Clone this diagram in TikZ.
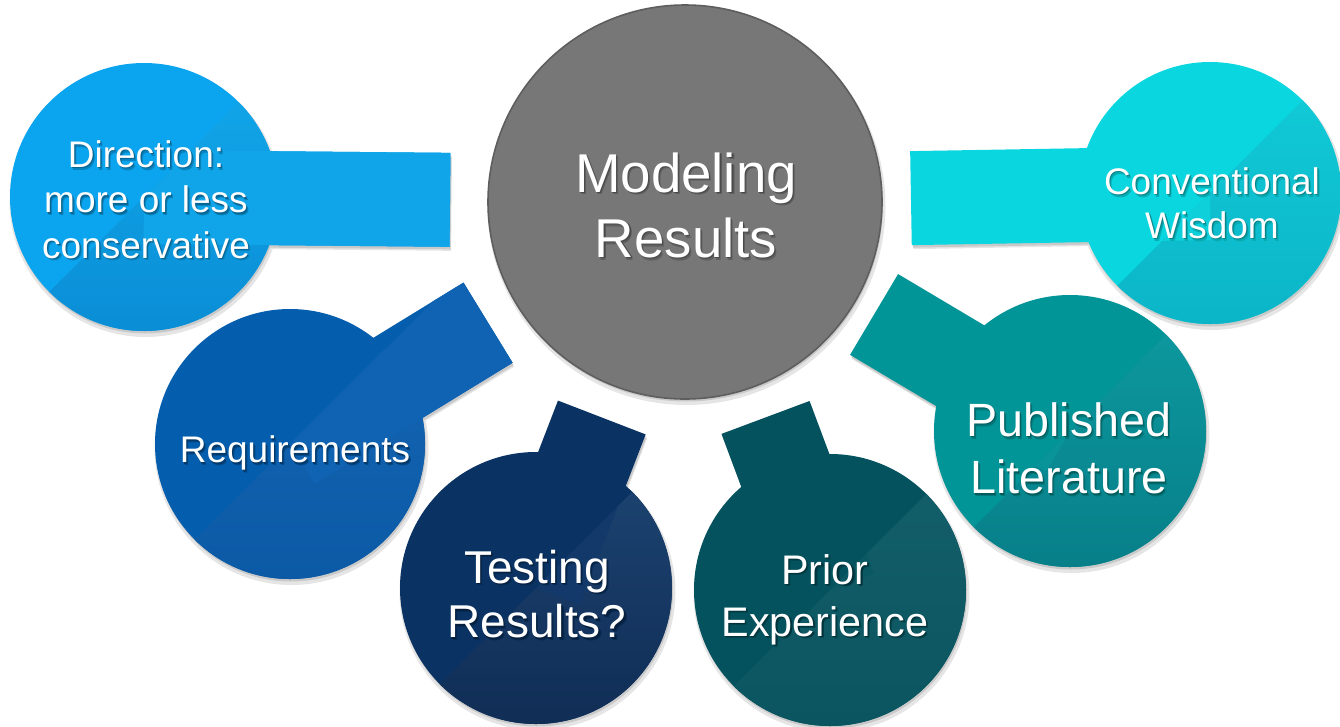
\documentclass[tikz,border=0pt]{standalone}
\usepackage{fontspec}
\setmainfont{Liberation Sans}
\usetikzlibrary{calc}

\definecolor{hubgray}{HTML}{777777}
\definecolor{hubedge}{HTML}{5E5E5E}
% base / lower-right top / lower-right bottom / tab tint
\definecolor{dirA}{HTML}{0BA4EE}\definecolor{dirB}{HTML}{12A8EA}\definecolor{dirC}{HTML}{0A8ED6}\definecolor{dirD}{HTML}{10A5E8}
\definecolor{reqA}{HTML}{045DAD}\definecolor{reqB}{HTML}{1466B4}\definecolor{reqC}{HTML}{0C5AA6}\definecolor{reqD}{HTML}{0F63B2}
\definecolor{tstA}{HTML}{0A3364}\definecolor{tstB}{HTML}{1D4573}\definecolor{tstC}{HTML}{102D55}\definecolor{tstD}{HTML}{12396A}
\definecolor{priA}{HTML}{03525D}\definecolor{priB}{HTML}{135F6A}\definecolor{priC}{HTML}{0B5560}\definecolor{priD}{HTML}{0A5862}
\definecolor{pubA}{HTML}{029597}\definecolor{pubB}{HTML}{0E9BA1}\definecolor{pubC}{HTML}{077F89}\definecolor{pubD}{HTML}{089498}
\definecolor{conA}{HTML}{09D6DF}\definecolor{conB}{HTML}{12CCD8}\definecolor{conC}{HTML}{0BB5C8}\definecolor{conD}{HTML}{0DD0DB}

% #1 name, #2 x, #3 y, #4 radius, #5 base, #6 lower-right top, #7 lower-right bottom,
% #8 tab tint, #9 distance of the tab end from the hub centre
\newcommand{\drawbubble}[9]{%
  \coordinate (#1) at (#2,#3);
  \coordinate (#1e) at ($(hub)!#9!(#1)$);
  \coordinate (#1a) at ($(#1e)!35.25pt!90:(#1)$);
  \coordinate (#1b) at ($(#1e)!35.25pt!-90:(#1)$);
  \coordinate (#1c) at ($(#1)!35.25pt!90:(#1e)$);
  \coordinate (#1d) at ($(#1)!35.25pt!-90:(#1e)$);
  % soft drop shadow
  \begin{scope}[transparency group, opacity=0.10]
    \fill[black] ($(#1)+(1.5,4)$) circle (#4+2);
    \fill[black] ($(#1a)+(1.5,4)$) -- ($(#1b)+(1.5,4)$) -- ($(#1c)+(1.5,4)$) -- ($(#1d)+(1.5,4)$) -- cycle;
  \end{scope}
  \begin{scope}[transparency group, opacity=0.12]
    \fill[black] ($(#1)+(1,2.5)$) circle (#4);
    \fill[black] ($(#1a)+(1,2.5)$) -- ($(#1b)+(1,2.5)$) -- ($(#1c)+(1,2.5)$) -- ($(#1d)+(1,2.5)$) -- cycle;
  \end{scope}
  % body: disc and tab
  \fill[#5] (#1) circle (#4);
  \fill[#5] (#1a) -- (#1b) -- (#1c) -- (#1d) -- cycle;
  % lower-right sheen
  \begin{scope}
    \clip (#1) circle (#4);
    \clip ($(#1)+(-450,450)$) -- ($(#1)+(450,-450)$) -- ($(#1)+(450,450)$) -- cycle;
    \shade[top color=#6, bottom color=#7] ($(#1)+(-#4,-#4)$) rectangle ($(#1)+(#4,#4)$);
  \end{scope}
  \begin{scope}
    \clip (#1a) -- (#1b) -- (#1c) -- (#1d) -- cycle;
    \fill[#8] ($(#1)+(-450,450)$) -- ($(#1)+(450,-450)$) -- ($(#1)+(450,450)$) -- cycle;
  \end{scope}
}

% white centred lines with a soft dark shadow behind them
% #1 colour under the text, #2 lines
\newcommand{\shadowlines}[2]{%
  \rlap{\hspace{1.6pt}\raisebox{-2pt}{\textcolor{#1!80!black}{\begin{tabular}{@{}c@{}}#2\end{tabular}}}}%
  \rlap{\hspace{0.9pt}\raisebox{-1.1pt}{\textcolor{#1!62!black}{\begin{tabular}{@{}c@{}}#2\end{tabular}}}}%
  \textcolor{white}{\begin{tabular}{@{}c@{}}#2\end{tabular}}}

% #1 name, #2 x, #3 y, #4 size, #5 leading, #6 colour under the text, #7 lines
\newcommand{\bubbletext}[7]{%
  \node[lbl, font=\fontsize{#4}{#5}\selectfont] (#1) at (#2,#3) {\shadowlines{#6}{#7}};
}

\begin{document}
\begin{tikzpicture}[x=0.75pt,y=-0.75pt,
  lbl/.style={inner sep=0pt}]
\useasboundingbox (0,0) rectangle (1340,726);
\fill[white] (0,0) rectangle (1340,726);

\coordinate (hub) at (685,202);

% satellites
\drawbubble{dir}{144}{197}{134}{dirA}{dirB}{dirC}{dirD}{176.25pt}
\drawbubble{req}{290}{444}{135}{reqA}{reqB}{reqC}{reqD}{173.25pt}
\drawbubble{tst}{536}{588}{136}{tstA}{tstB}{tstC}{tstD}{173.25pt}
\drawbubble{pri}{830}{590}{136}{priA}{priB}{priC}{priD}{172.5pt}
\drawbubble{pub}{1070}{431}{136}{pubA}{pubB}{pubC}{pubD}{165pt}
\drawbubble{con}{1210}{193}{131}{conA}{conB}{conC}{conD}{169.5pt}

% central circle
\fill[black, opacity=0.10] ($(hub)+(1.5,4)$) circle (199);
\fill[black, opacity=0.12] ($(hub)+(1,2.5)$) circle (197);
\filldraw[fill=hubgray, draw=hubedge, line width=1.2pt] (hub) circle (197);

% labels
\bubbletext{hubtxt}{686}{213}{41pt}{49pt}{hubgray}{Modeling\\Results}
\bubbletext{dirtxt}{146}{205}{27.75pt}{34pt}{dirA}{Direction:\\more or less\\conservative}
\bubbletext{reqtxt}{295}{455}{27.75pt}{34pt}{reqA}{Requirements}
\bubbletext{tsttxt}{537}{601}{34.5pt}{41pt}{tstA}{Testing\\Results?}
\bubbletext{pritxt}{825}{601}{31pt}{39pt}{priA}{Prior\\Experience}
\bubbletext{pubtxt}{1069}{455}{35pt}{43pt}{pubA}{Published\\Literature}
\bubbletext{contxt}{1212}{209}{27.75pt}{33pt}{conA}{Conventional\\Wisdom}
\end{tikzpicture}
\end{document}
